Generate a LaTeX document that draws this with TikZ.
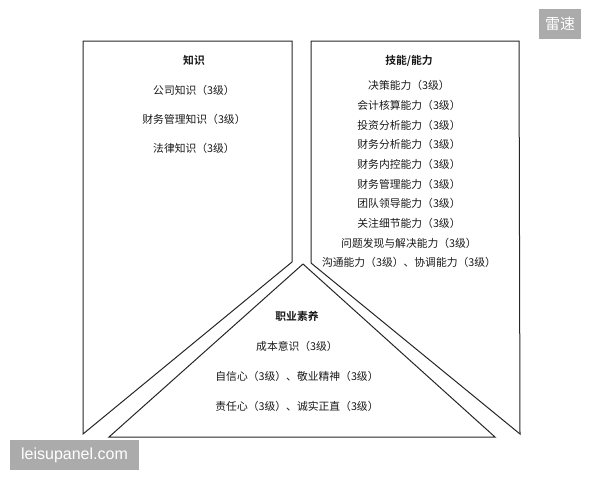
\documentclass[tikz,border=0pt]{standalone}
\usepackage{fontspec}
\setmainfont{Noto Sans CJK SC}[BoldFont={Noto Sans CJK SC Bold}]
\newfontfamily\wmfont{Liberation Sans}
\usetikzlibrary{positioning}

\begin{document}
\begin{tikzpicture}[x=1pt,y=-1pt,
  font=\fontsize{10.8}{12}\selectfont,
  every matrix/.style={ampersand replacement=\&,inner sep=0pt},
  panel/.style={draw=black!85,line width=1pt,line join=miter},
  head/.style={font=\fontsize{10.8}{12}\selectfont\bfseries,inner sep=0pt,text height=8pt,text depth=2.5pt,text=black!90},
  item/.style={inner sep=0pt,text height=8pt,text depth=2.5pt,text=black!90},
  wmbox/.style={fill=black!33,text=white,inner sep=0pt,minimum height=30pt}]

  \useasboundingbox (0,0) rectangle (600,480);

  % Flaechen
  \draw[panel] (83,41) -- (292,41) -- (292,262) -- (83,434) -- cycle;
  \draw[panel] (311,41) -- (519,41) -- (520,434) -- (311,263) -- cycle;
  \draw[panel] (303,264) -- (495,437) -- (109,437) -- cycle;

  % Wissen
  \matrix (know) at (194,56.5) [anchor=north,row sep=18.5pt] {
    \node[head] (knowhead) {知识}; \\
    \node[item] (know1) {公司知识（3级）}; \\
    \node[item] (know2) {财务管理知识（3级）}; \\
    \node[item] (know3) {法律知识（3级）}; \\
  };

  % Faehigkeiten
  \matrix (skill) at (409,56.5) [anchor=north,row sep=9pt] {
    \node[head] (skillhead) {技能/能力}; \\[5pt]
    \node[item] (skill1) {决策能力（3级）}; \\
    \node[item] (skill2) {会计核算能力（3级）}; \\
    \node[item] (skill3) {投资分析能力（3级）}; \\
    \node[item] (skill4) {财务分析能力（3级）}; \\
    \node[item] (skill5) {财务内控能力（3级）}; \\
    \node[item] (skill6) {财务管理能力（3级）}; \\
    \node[item] (skill7) {团队领导能力（3级）}; \\
    \node[item] (skill8) {关注细节能力（3级）}; \\
    \node[item] (skill9) {问题发现与解决能力（3级）}; \\
    \node[item] (skill10) {沟通能力（3级）、协调能力（3级）}; \\
  };

  % Berufsethos
  \matrix (ethic) at (297,312.5) [anchor=north,row sep=19pt] {
    \node[head] (ethichead) {职业素养}; \\
    \node[item] (ethic1) {成本意识（3级）}; \\
    \node[item] (ethic2) {自信心（3级）、敬业精神（3级）}; \\
    \node[item] (ethic3) {责任心（3级）、诚实正直（3级）}; \\
  };

  % Wasserzeichen
  \node[wmbox,minimum width=42pt,font=\fontsize{15}{18}\selectfont] (wmtop) at (560,24) {雷速};
  \node[wmbox,minimum width=129pt,font=\wmfont\fontsize{16}{18}\selectfont] (wmbottom) at (74.5,455) {leisupanel.com};

\end{tikzpicture}
\end{document}
